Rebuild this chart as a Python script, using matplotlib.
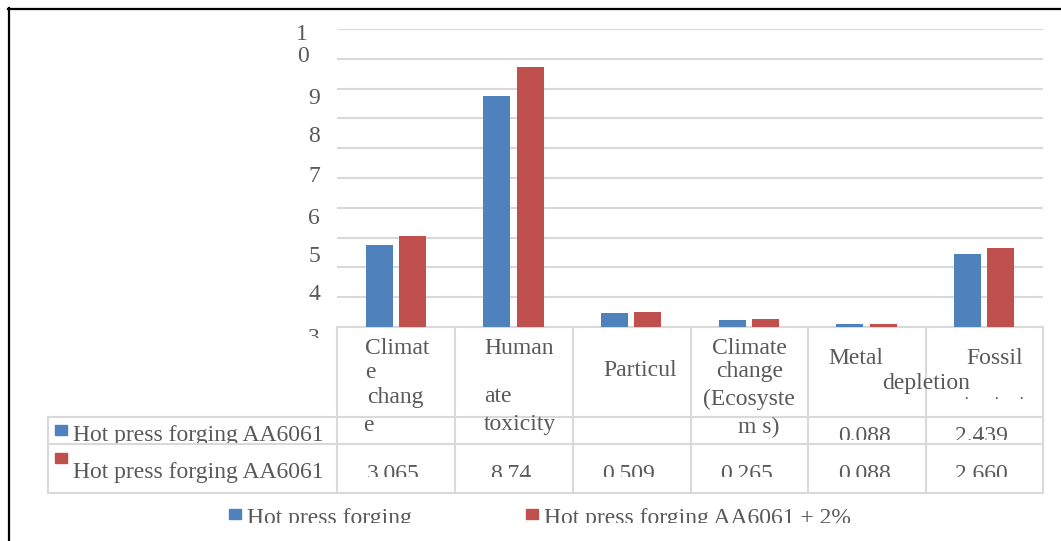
import matplotlib
matplotlib.use("Agg")
import matplotlib.pyplot as plt
from matplotlib.patches import Rectangle
from matplotlib.lines import Line2D
from matplotlib.transforms import Bbox, TransformedBbox, blended_transform_factory
import numpy as np

# Chart data
categories = ["Climate change", "Human toxicity", "Particulate matter",
              "Climate change (Ecosystems)", "Metal depletion", "Fossil depletion"]
hpf = [2.76, 7.76, 0.47, 0.24, 0.088, 2.439]
hpf_2 = [3.065, 8.74, 0.509, 0.265, 0.088, 2.660]
hpf_labels = ["", "", "", "", "0.088", "2.439"]
hpf_2_labels = ["3.065", "8.74", "0.509", "0.265", "0.088", "2.660"]
series_names = ["Hot press forging AA6061", "Hot press forging AA6061"]
legend_names = ["Hot press forging", "Hot press forging AA6061 + 2%"]
# garbled y tick labels as they appear in the picture
ytick_bits = ["1", "0", "9", "8", "7", "6", "5", "4", "3"]

blue = "#4f81bd"
red = "#c0504d"
grey_text = "#595959"
grid_col = "#d9d9d9"
font = "Liberation Serif"
fs = 17

W, H = 1061, 541
fig = plt.figure(figsize=(W / 100, H / 100), dpi=100)


def fx(x):
    return x / W


def fy(y):
    return 1 - y / H


def clip_below(txt, y_px):
    bb = Bbox.from_extents(0, fy(y_px), 1, 1)
    txt.set_clip_box(TransformedBbox(bb, fig.transFigure))
    txt.set_clip_on(True)


def ftext(x, y, s, clip=None, **kw):
    kw.setdefault("fontsize", fs)
    kw.setdefault("color", grey_text)
    kw.setdefault("family", font)
    kw.setdefault("va", "baseline")
    t = fig.text(fx(x), fy(y), s, **kw)
    if clip is not None:
        clip_below(t, clip)
    return t


def fline(x0, y0, x1, y1, **kw):
    kw.setdefault("color", grid_col)
    kw.setdefault("lw", 1.5)
    fig.add_artist(Line2D([fx(x0), fx(x1)], [fy(y0), fy(y1)],
                          transform=fig.transFigure, **kw))


# plot area
ax = fig.add_axes([fx(337), fy(327), fx(1043) - fx(337), fy(29) - fy(327)])
x = np.arange(len(categories))
bw = 0.23
off = 0.142
ax.bar(x - off, hpf, bw, color=blue, zorder=3)
ax.bar(x + off, hpf_2, bw, color=red, zorder=3)
ax.set_xlim(-0.5, len(categories) - 0.5)
ax.set_ylim(0, 10)
ax.set_yticks(np.arange(0, 11, 1))
ax.yaxis.grid(True, color=grid_col, lw=1.5, zorder=0)
ax.set_xticks([])
ax.tick_params(left=False, labelleft=False)
for s in ["top", "right", "left"]:
    ax.spines[s].set_visible(False)
ax.spines["bottom"].set_color(grid_col)
ax.spines["bottom"].set_linewidth(1.5)
ax.patch.set_alpha(0)

# y tick labels (garbled in the source)
ytick_pos = [(302, 35, "center"), (303, 57, "center"), (320, 99, "right"),
             (320, 137, "right"), (320, 177, "right"), (320, 218, "right"),
             (320, 256, "right"), (320, 295, "right"), (320, 338, "right")]
for s, (px, py, ha) in zip(ytick_bits, ytick_pos):
    t = ftext(px, py, s, ha=ha, va="center")
    if s == "3":
        clip_below(t, 338)

# data table grid
col_edges = [337, 455, 573, 691, 808, 926, 1043]
for xe in col_edges:
    fline(xe, 327, xe, 493)
fline(48, 417, 48, 493)
for ye in [417, 444, 493]:
    fline(48, ye, 1043, ye)

# category header (garbled word wrapping as in the picture)
header_bits = [("Climat", 365, 354), ("e", 365, 378), ("chang", 367, 403),
               ("e", 363, 431), ("Human", 484, 354), ("ate", 484, 402),
               ("toxicity", 484, 430), ("Particul", 603, 376),
               ("Climate", 712, 354), ("change", 716, 377),
               ("(Ecosyste", 703, 405), ("m s)", 738, 433),
               ("Metal", 828, 364), ("depletion", 882, 389),
               ("Fossil", 966, 364)]
for s, px, py in header_bits:
    ftext(px, py, s)
for px in [963, 993, 1018]:
    ftext(px, 404, "\u00b7", fontsize=12)

# row values, centred on each category through the axes x scale
tr = blended_transform_factory(ax.transData, fig.transFigure)
for i in range(len(categories)):
    if hpf_labels[i]:
        t = fig.text(x[i] - 0.02, fy(442), hpf_labels[i], transform=tr,
                     ha="center", va="baseline", fontsize=fs,
                     color=grey_text, family=font)
        clip_below(t, 440)
    t = fig.text(x[i] - 0.02, fy(480), hpf_2_labels[i], transform=tr,
                 ha="center", va="baseline", fontsize=fs,
                 color=grey_text, family=font)
    clip_below(t, 477)

# row headers with colour keys
fig.add_artist(Rectangle((fx(55), fy(435)), fx(12), 10 / H, color=blue,
                         transform=fig.transFigure))
ftext(73, 441, series_names[0], clip=443)
fig.add_artist(Rectangle((fx(55), fy(463)), fx(12), 10 / H, color=red,
                         transform=fig.transFigure))
ftext(73, 478, series_names[1], clip=484)

# legend at the bottom (cut off in the picture)
fig.add_artist(Rectangle((fx(229), fy(519)), fx(12), 10 / H, color=blue,
                         transform=fig.transFigure))
ftext(247, 524, legend_names[0], clip=523)
fig.add_artist(Rectangle((fx(526), fy(519)), fx(12), 10 / H, color=red,
                         transform=fig.transFigure))
ftext(544, 524, legend_names[1], clip=523)

# outer frame (top and left edges)
fline(8, 8.5, W, 8.5, color="black", lw=1.6)
fline(9, 8, 9, H, color="black", lw=1.6)

fig.savefig("out.png", dpi=100)
